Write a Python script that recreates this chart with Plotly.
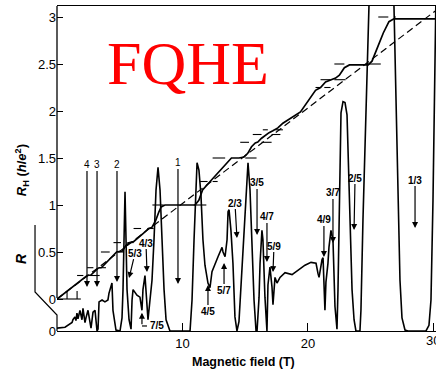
import plotly.graph_objects as go

# ---------------- data ----------------
# Hall resistance R_H (h/e^2) vs magnetic field B (T)
B_RH = [0, 2.2, 2.4, 2.7, 3.1, 3.3, 3.55, 4.4, 4.75, 5.2, 5.5, 5.8, 6.1, 6.9, 7.3, 7.55,
        7.85, 8.1, 8.3, 8.6, 11.0, 11.3, 11.6, 12.2, 12.8, 13.4, 13.7, 13.9, 14.5, 14.9,
        15.2, 15.5, 15.8, 16.0, 16.3, 16.6, 16.9, 17.2, 17.6, 18.0, 19.4, 20.6, 21.0,
        21.4, 22.2, 22.5, 22.9, 23.3, 24.8, 25.1, 25.45, 26.0, 26.45, 26.85, 30.2]
RH = [0, 0.225, 0.25, 0.255, 0.30, 0.33, 0.335, 0.45, 0.50, 0.51, 0.57, 0.60, 0.61, 0.70,
      0.75, 0.76, 0.83, 0.92, 0.98, 1.0, 1.0, 1.05, 1.16, 1.25, 1.34, 1.43, 1.47, 1.50,
      1.50, 1.51, 1.55, 1.62, 1.66, 1.67, 1.71, 1.74, 1.77, 1.79, 1.82, 1.87, 1.99, 2.22,
      2.25, 2.31, 2.35, 2.38, 2.46, 2.49, 2.49, 2.53, 2.65, 2.83, 2.95, 2.98, 2.98]

# classical Hall line (dashed)
B_CLASSICAL = [0, 30.2]
RH_CLASSICAL = [0, 3.07]

# longitudinal resistance R (arb. units) vs B
B_R = [0.00, 0.64, 1.20, 1.27, 1.43, 1.51, 1.59, 1.67, 1.83, 1.99, 2.07, 2.23, 2.31, 2.47,
       2.71, 2.87, 3.03, 3.19, 3.27, 3.35, 3.59, 3.82, 4.06, 4.14, 4.38, 4.46, 4.70, 5.02,
       5.18, 5.26, 5.34, 5.42, 5.50, 5.58, 5.74, 5.90, 5.98, 6.06, 6.37, 6.61, 6.77, 6.85,
       7.01, 7.09, 7.25, 7.41, 7.57, 7.73, 7.89, 8.05, 8.21, 8.37, 8.53, 8.69, 9.00, 10.60,
       10.76, 10.92, 11.08, 11.16, 11.31, 11.47, 11.63, 11.79, 12.03, 12.19, 12.35, 12.59,
       12.83, 13.15, 13.23, 13.39, 13.55, 13.63, 13.71, 13.86, 14.02, 14.18, 14.34, 14.50,
       14.74, 14.98, 15.22, 15.38, 15.54, 15.70, 15.86, 15.94, 16.10, 16.18, 16.33, 16.41,
       16.57, 16.73, 16.81, 16.97, 17.13, 17.21, 17.37, 17.53, 17.77, 18.17, 18.73, 19.20,
       19.76, 20.24, 20.64, 20.80, 20.88, 21.12, 21.20, 21.35, 21.43, 21.59, 21.67, 21.83,
       21.99, 22.15, 22.31, 22.39, 22.47, 22.55, 22.63, 22.79, 22.95, 23.11, 23.19, 23.35,
       23.51, 23.67, 23.82, 24.14, 24.22, 24.38, 24.54, 24.70, 24.86, 25.20, 26.50, 26.85,
       27.01, 27.17, 27.33, 27.49, 27.73, 27.97, 29.40, 29.64, 29.80, 29.96, 30.12, 30.20]
R = [0.03, 0.04, 0.09, 0.12, 0.15, 0.11, 0.19, 0.13, 0.22, 0.12, 0.24, 0.09, 0.14, 0.22,
     0.03, 0.20, 0.22, 0.00, 0.02, 0.31, 0.33, 0.31, 0.33, 0.40, 0.51, 0.22, 0.01, 0.00,
     0.14, 0.44, 0.97, 1.48, 0.97, 0.44, 0.12, 0.02, 0.33, 0.44, 0.38, 0.36, 0.22, 0.44,
     0.59, 0.44, 0.12, 0.33, 0.54, 0.97, 1.50, 1.74, 1.50, 0.97, 0.44, 0.12, 0.00, 0.00,
     0.33, 0.97, 1.61, 1.79, 1.71, 1.45, 0.97, 0.70, 0.51, 0.46, 0.63, 0.72,
     0.79, 0.89, 0.84, 0.79, 0.97, 1.27, 1.29, 1.07, 0.72, 0.15, 0.00, 0.10,
     0.65, 1.32, 1.79, 1.50, 0.97, 0.33, 0.00, 0.00, 0.36, 0.72, 1.07, 0.97,
     0.36, 0.00, 0.49, 0.68, 0.47, 0.28, 0.57, 0.51, 0.57, 0.62, 0.60, 0.65,
     0.70, 0.73, 0.72, 0.61, 0.57, 0.76, 0.78, 0.22, 0.52, 0.72, 0.89, 1.07,
     0.97, 0.26, 0.02, 0.44, 1.18, 2.03, 2.32, 2.44, 2.43, 2.30, 1.93, 1.07,
     0.44, 0.12, 0.00, 0.00, 0.22, 1.18, 2.03, 2.88, 3.46, 5.00, 5.00, 3.46,
     2.46, 1.39, 0.54, 0.14, 0.01, 0.00, 0.00, 0.06, 0.33, 1.39, 2.67, 3.60]

# plateau marker dashes: level, left dash [L1, L2], right dash [R1, R2] (B in T)
PLATEAU_LEVEL = [0.25, 0.333, 0.5, 0.6, 0.75, 1.0, 1.25, 1.5, 1.667, 1.75, 1.8, 2.25, 2.333, 2.5, 3.0]
PLATEAU_L1 = [1.6, 2.4, 3.5, 4.5, 6.1, 7.6, 11.4, 12.4, 14.6, 15.6, 16.4, 20.6, 21.0, 22.1, 25.6]
PLATEAU_L2 = [2.1, 2.9, 4.2, 5.1, 6.7, 8.5, 12.0, 13.4, 15.3, 16.3, 16.8, 21.0, 21.8, 22.9, 26.4]
PLATEAU_R1 = [2.6, 3.4, 4.9, 5.6, 7.2, 10.9, 12.4, 15.0, 16.3, 17.1, 17.4, 21.3, 22.1, 24.8, 26.9]
PLATEAU_R2 = [3.4, 3.9, 5.3, 6.1, 7.7, 11.9, 12.8, 15.9, 17.1, 17.8, 18.0, 21.8, 23.0, 25.8, 27.0]

# filling-factor arrows: label, B of arrow, R_H of tip
ARROW_TEXT = ["4", "3", "2", "1", "5/3", "4/3", "4/5", "5/7", "2/3", "3/5", "4/7", "5/9",
              "4/9", "3/7", "2/5", "1/3"]
ARROW_B = [2.39, 3.19, 4.78, 9.64, 5.74, 7.17, 12.03, 13.31, 14.34, 15.94, 16.73, 17.21,
           21.27, 21.99, 23.67, 28.53]
ARROW_TIP = [0.128, 0.128, 0.181, 0.16, 0.223, 0.287, 0.149, 0.383, 0.649, 0.681, 0.394,
             0.287, 0.447, 0.596, 0.734, 0.755]
# label offsets from tip (pixels) - styling
ARROW_AX = [0, 0, 0, 0, 6, -1, 0, 0, -2, 0, 0, 1, 0, 0, 1, 0]
ARROW_AY = [-122, -122, -117, -121, -25, -29, 26, 27, -35, -52, -45, -26, -37, -50, -52, -48]

Y_TICKS = [0, 0.5, 1, 1.5, 2, 2.5, 3]
Y_TICKTEXT = ["0", "0.5", "1", "1.5", "2", "2.5", "3"]
X_TICKS = [10, 20, 30]

# ---------------- figure ----------------
FONT = "Liberation Sans, Arial, sans-serif"
fig = go.Figure()

fig.add_trace(go.Scatter(x=B_CLASSICAL, y=RH_CLASSICAL, mode="lines",
                         line=dict(color="black", width=1.2, dash="7px,4px"),
                         hoverinfo="skip"))

px_, py_ = [], []
for lv, a1, a2, b1, b2 in zip(PLATEAU_LEVEL, PLATEAU_L1, PLATEAU_L2, PLATEAU_R1, PLATEAU_R2):
    px_ += [a1, a2, None, b1, b2, None]
    py_ += [lv, lv, None, lv, lv, None]
fig.add_trace(go.Scatter(x=px_, y=py_, mode="lines", line=dict(color="black", width=1.1),
                         hoverinfo="skip"))

fig.add_trace(go.Scatter(x=B_RH, y=RH, mode="lines",
                         line=dict(color="black", width=1.7), hoverinfo="skip"))

fig.add_trace(go.Scatter(x=B_R, y=R, mode="lines", yaxis="y2",
                         line=dict(color="black", width=1.6), hoverinfo="skip"))

annotations = []
for t, b, tip, ax, ay in zip(ARROW_TEXT, ARROW_B, ARROW_TIP, ARROW_AX, ARROW_AY):
    txt = t if "/" not in t else "<b>" + t + "</b>"
    annotations.append(dict(x=b, y=tip, xref="x", yref="y", text=txt, showarrow=True,
                            ax=ax, ay=ay, arrowhead=2, arrowsize=1.0, arrowwidth=1.2,
                            arrowcolor="black", font=dict(family=FONT, size=10, color="black"),
                            borderpad=0))
# 7/5 (L-shaped arrow)
annotations.append(dict(x=6.77, y=-0.145, xref="x", yref="y", text="<b>.</b>", showarrow=True,
                        ax=0, ay=13, arrowhead=2, arrowsize=1.0, arrowwidth=1.2,
                        arrowcolor="black", font=dict(size=2, color="white"), borderpad=0))
annotations.append(dict(x=7.22, y=-0.287, xref="x", yref="y", text="<b>7/5</b>",
                        showarrow=False, xanchor="left", yanchor="middle",
                        font=dict(family=FONT, size=10, color="black")))
# tick label "30" partly cut at the right edge, as in the reference
annotations.append(dict(x=30, y=-0.028, xref="x", yref="paper", text="30",
                        showarrow=False, xanchor="center", yanchor="middle",
                        font=dict(family=FONT, size=13, color="black")))

annotations.append(dict(x=0.3456, y=0.8246, xref="paper", yref="paper", text="FQHE",
                        showarrow=False, xanchor="center", yanchor="middle",
                        font=dict(family="Liberation Serif, Times New Roman, serif",
                                  size=62, color="#ff0000")))
annotations.append(dict(x=0.491, y=-0.095, xref="paper", yref="paper",
                        text="<b>Magnetic field (T)</b>", showarrow=False,
                        xanchor="center", yanchor="middle",
                        font=dict(family=FONT, size=12.5, color="black")))
annotations.append(dict(x=-0.0923, y=0.495, xref="paper", yref="paper",
                        text="<b><i>R</i><sub>H</sub> (<i>h</i>/<i>e</i><sup>2</sup>)</b>",
                        showarrow=False, textangle=-90, xanchor="center", yanchor="middle",
                        font=dict(family=FONT, size=13, color="black")))
annotations.append(dict(x=-0.095, y=0.2246, xref="paper", yref="paper",
                        text="<b><i>R</i></b>", showarrow=False, textangle=-90,
                        xanchor="center", yanchor="middle",
                        font=dict(family=FONT, size=14, color="black")))

shapes = [
    # left R_H axis line
    dict(type="line", xref="paper", yref="paper", x0=0, x1=0, y0=0.1015, y1=1,
         line=dict(color="black", width=1.3)),
    # R axis (offset, bent)
    dict(type="path", xref="paper", yref="paper",
         path="M -0.058,0.326 L -0.058,0.12 L 0,0.049 L 0,0",
         line=dict(color="black", width=1.2)),
    # short R_H baseline with small ticks
    dict(type="line", xref="x", yref="y", x0=0, x1=1.9, y0=0, y1=0,
         line=dict(color="black", width=1.1)),
    dict(type="line", xref="x", yref="y", x0=0.8, x1=0.8, y0=0, y1=0.085,
         line=dict(color="black", width=1.1)),
    dict(type="line", xref="x", yref="y", x0=1.6, x1=1.6, y0=0, y1=0.085,
         line=dict(color="black", width=1.1)),
    # 7/5 L bracket
    dict(type="line", xref="x", yref="y", x0=6.77, x1=7.17, y0=-0.287, y1=-0.287,
         line=dict(color="black", width=1.2)),
]

fig.update_layout(
    width=436, height=373,
    margin=dict(l=57, r=0, t=6, b=42),
    paper_bgcolor="white", plot_bgcolor="white",
    showlegend=False,
    font=dict(family=FONT, size=13, color="black"),
    xaxis=dict(range=[0, 30.2], tickvals=X_TICKS, ticks="inside", ticklen=8,
               tickwidth=1.1, tickcolor="black", showline=True, linecolor="black",
               linewidth=1.3, mirror=True, showgrid=False, zeroline=False,
               tickfont=dict(family=FONT, size=13, color="black")),
    yaxis=dict(range=[-0.3404, 3.117], tickvals=Y_TICKS, ticktext=Y_TICKTEXT,
               ticks="inside", ticklen=6, tickwidth=1.1, tickcolor="black",
               showline=False, showgrid=False, zeroline=False,
               tickfont=dict(family=FONT, size=13, color="black")),
    yaxis2=dict(range=[0, 3.457], overlaying="y", side="left", tickvals=[0],
                ticktext=["0"], ticks="", showline=False, showgrid=False,
                zeroline=False, tickfont=dict(family=FONT, size=13, color="black")),
    annotations=annotations,
    shapes=shapes,
)

fig.write_html("out.html", config={"displayModeBar": False},
               post_script="document.body.style.margin='0';document.body.style.overflow='hidden';")
